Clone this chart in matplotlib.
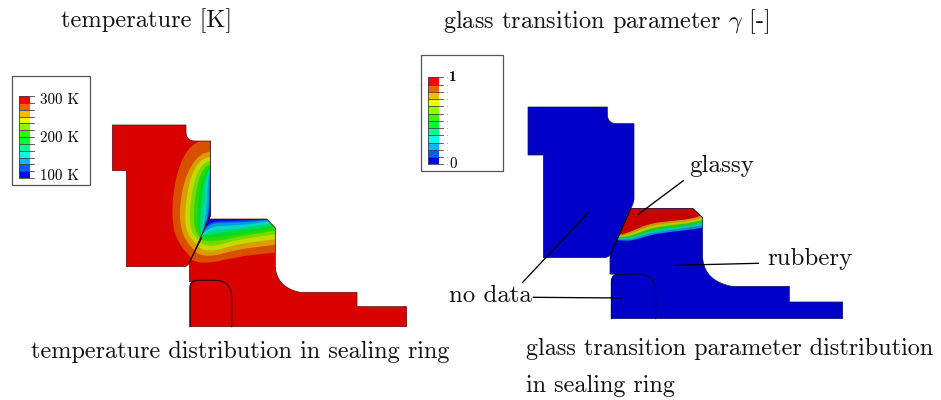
import numpy as np
import matplotlib
matplotlib.use("Agg")
import matplotlib.pyplot as plt
from matplotlib.patches import Polygon, Rectangle

plt.rcParams['font.family'] = ['cmr10', 'DejaVu Serif']
plt.rcParams['mathtext.fontset'] = 'cm'
plt.rcParams['axes.formatter.use_mathtext'] = True

# ---- colour scale (top to bottom) ----
legend_colors = ['#ff0000', '#ff5d00', '#ffb900', '#e8ff00', '#8bff00', '#2eff00',
                 '#00ff2e', '#00ff8b', '#00ffe8', '#00b9ff', '#005dff', '#0000ff']
shade_left = 0.85
shade_right = 0.79


def smooth(p, n=3):
    p = np.asarray(p, float)
    for _ in range(n):
        q = p[:-1]*0.75 + p[1:]*0.25
        r = p[:-1]*0.25 + p[1:]*0.75
        p = np.vstack([p[:1], np.column_stack([q, r]).reshape(-1, 2), p[-1:]])
    return p

def corner(a, c, b, n=24):
    """Rounded corner from a to b with control point c."""
    t = np.linspace(0, 1, n)[:, None]
    a, c, b = (np.asarray(v, float) for v in (a, c, b))
    return (1-t)**2*a + 2*t*(1-t)*c + t**2*b

def build(*parts):
    """Join straight point lists with rounded corners (given as 1-tuples)."""
    out = []
    for part in parts:
        out.append(corner(*part[0]) if isinstance(part, tuple) else np.asarray(part, float))
    return np.vstack(out)

# ---- left part: geometry, zoom frame 1 (origin 100,110; factor 3) ----
L_upper = build([(37,45),(258,45)], ([(258,66),(259,93),(285,93)],), [(332,93),(332,312)],
                ([(332,312),(330,324),(326,330)],), [(268,458)], ([(268,458),(262,470),(250,470)],),
                [(79,470),(79,182),(37,182)])
L_lower = build([(326,327),(500,327),(526,354)], ([(526,470),(530,532),(600,547)],),
                [(771,547),(771,590),(920,590),(920,650),(270,650),(270,532)],
                ([(270,532),(271,516),(286,513)],), [(268,515),(268,458)])
L_insert = build([(270,650)], ([(270,532),(271,512),(290,511)],), ([(345,511),(393,513),(395,560)],), [(395,650)])
L_contact = [(304,385),(268,458)]

U_curves = [
    [(298,93),(268,112),(243,155),(225,215),(216,290),(220,360),(240,405),(272,442)],
    [(332,124),(300,133),(268,175),(247,235),(238,310),(245,365),(262,398),(282,420)],
    [(332,140),(305,148),(278,185),(262,245),(254,320),(260,365),(275,388),(289,402)],
    [(332,152),(310,160),(288,195),(274,255),(268,325),(274,362),(285,380),(294,390)],
    [(332,162),(315,170),(296,205),(285,265),(281,330),(286,360),(298,382)],
    [(332,168),(320,178),(305,210),(295,270),(291,335),(295,360),(301,384)],
    [(332,176),(322,186),(310,225),(303,280),(299,340),(303,385)],
    [(332,176),(322,195),(316,250),(312,300),(305,378)],
    [(332,178),(326,195),(322,250),(320,300),(305,378)],
    [(332,190),(329,210),(327,310),(306,372)],
    [(332,215),(331,310),(315,345)],
]
D_curves = [
    [(270,447),(295,458),(335,458),(390,446),(450,435),(526,428)],
    [(282,423),(305,437),(345,437),(400,422),(460,412),(526,404)],
    [(289,408),(315,422),(350,421),(400,406),(460,396),(526,388)],
    [(294,396),(320,408),(355,406),(400,393),(460,382),(526,373)],
    [(297,388),(325,395),(360,392),(410,381),(470,371),(526,362)],
    [(299,385),(330,383),(370,379),(420,371),(480,362),(522,352)],
    [(302,381),(335,372),(380,367),(430,361),(480,354),(515,344)],
    [(304,378),(335,362),(380,357),(440,352),(510,340)],
    [(306,372),(335,350),(380,347),(440,344),(505,334)],
    [(310,362),(335,340),(380,338),(440,336),(500,330)],
    [(315,352),(335,334),(400,332),(500,328)],
]

# ---- right part: geometry, zoom frame 2 (origin 510,95; factor 3) ----
R_upper = build([(54,36),(292,36)], ([(292,58),(293,86),(320,86)],), [(372,86),(372,312)],
                ([(372,312),(370,325),(365,335)],), [(302,476)], ([(302,476),(295,488),(282,488)],),
                [(100,488),(100,180),(54,180)])
R_lower = build([(360,340),(548,340),(578,368)], ([(578,490),(584,558),(665,574)],),
                [(838,574),(838,621),(998,621),(998,671),(304,671),(304,560)],
                ([(304,560),(305,541),(323,538)],), [(300,537),(300,480)])
R_insert = build([(304,671)], ([(304,560),(305,539),(325,538)],), ([(390,538),(435,540),(437,590)],), [(437,671)])
R_contact = [(362,340),(302,478)]
R_curves = [
    [(338,418),(365,408),(420,385),(480,378),(540,372),(578,360)],
    [(335,422),(365,415),(420,392),(480,384),(540,378),(578,367)],
    [(333,426),(365,422),(420,400),(480,391),(540,384),(578,375)],
    [(331,430),(365,428),(420,407),(480,398),(540,391),(578,382)],
    [(329,433),(365,433),(420,414),(480,405),(540,397),(578,390)],
    [(328,436),(365,438),(420,420),(480,411),(540,404),(578,398)],
]
R_curve_colors = [1, 2, 3, 5, 8, 9]

# ---- annotation leaders (figure pixels) ----
leaders = [[(683.3,180.7),(638.3,214.3)], [(758.3,263.3),(675,265.3)],
           [(588.3,212.3),(522.7,282.3)], [(533.3,297.3),(621.7,298)]]

# ---- text ----
titles = [(61,27,'temperature [K]',17.6), (443.5,28,r'glass transition parameter $\gamma$ [-]',17.5),
          (31,358,'temperature distribution in sealing ring',17.47),
          (526,355,'glass transition parameter distribution',17.42),
          (526,392,'in sealing ring',17.42),
          (689,172,'glassy',18), (767,265,'rubbery',17.9), (449,302,'no data',17.9)]
left_ticks = ['300 K', '200 K', '100 K']
right_ticks = ['1', '0']


def shade(c, f):
    return tuple(f*v for v in matplotlib.colors.to_rgb(c))

def z1(p):
    return np.array(p, float)/3 + (100, 110)

def z2(p):
    return np.array(p, float)/3 + (510, 95)

fig = plt.figure(figsize=(9.41, 4.0), dpi=100)
ax = fig.add_axes([0, 0, 1, 1])
ax.set_xlim(0, 941); ax.set_ylim(400, 0); ax.axis('off')

def region(points, base):
    ax.add_patch(Polygon(points, closed=True, fc=base, ec='none', zorder=2))

def edge(points, col):
    ax.add_patch(Polygon(points, closed=True, fc='none', ec=col, lw=0.5, zorder=4))

# left part
pu = z1(L_upper); pl = z1(L_lower)
region(pu, shade('#ff0000', shade_left))
region(pl, shade('#ff0000', shade_left))
for i, cv in enumerate(U_curves):
    s = smooth(z1(cv))
    closing = [(300, s[-1, 1]), (300, 100), (s[0, 0], 100)]
    poly = Polygon(np.vstack([s, closing]), closed=True, fc=shade(legend_colors[i+1], shade_left), ec='none', zorder=3)
    ax.add_patch(poly); poly.set_clip_path(Polygon(pu, closed=True, transform=ax.transData))
for i, cv in enumerate(D_curves):
    s = smooth(z1(cv))
    closing = [(320, s[-1, 1]), (320, 200), (150, 200), (150, s[0, 1])]
    poly = Polygon(np.vstack([s, closing]), closed=True, fc=shade(legend_colors[i+1], shade_left), ec='none', zorder=3)
    ax.add_patch(poly); poly.set_clip_path(Polygon(pl, closed=True, transform=ax.transData))
edge(pu, '#5a1010'); edge(pl, '#5a1010')
ax.plot(*z1(L_insert).T, color='#200000', lw=0.8, zorder=5)
ax.plot(*z1(L_contact).T, color='#200000', lw=0.8, zorder=5)

# right part
ru = z2(R_upper); rl = z2(R_lower)
region(ru, shade('#0000ff', shade_right))
region(rl, shade('#0000ff', shade_right))
for cv, ci in reversed(list(zip(R_curves, R_curve_colors))):
    s = smooth(z2(cv))
    closing = [(760, s[-1, 1]), (760, 190), (590, 190), (590, s[0, 1])]
    col = shade(legend_colors[ci], shade_right)
    poly = Polygon(np.vstack([s, closing]), closed=True, fc=col, ec='none', zorder=3)
    ax.add_patch(poly); poly.set_clip_path(Polygon(rl, closed=True, transform=ax.transData))
s = smooth(z2(R_curves[0]))
poly = Polygon(np.vstack([s, [(760, s[-1, 1]), (760, 190), (590, 190), (590, s[0, 1])]]), closed=True,
               fc=shade('#ff0000', shade_right), ec='none', zorder=3)
ax.add_patch(poly); poly.set_clip_path(Polygon(rl, closed=True, transform=ax.transData))
edge(ru, '#10105a'); edge(rl, '#10105a')
ax.plot(*z2(R_insert).T, color='#000040', lw=0.7, zorder=5)
ax.plot(*z2(R_contact).T, color='black', lw=0.8, zorder=5)

# legends
def legend(box, x0, x1, y0, y1, tick_x):
    ax.add_patch(Rectangle((box[0], box[1]), box[2]-box[0], box[3]-box[1], fc='white', ec='#555555', lw=0.9, zorder=1))
    ys = np.linspace(y0, y1, len(legend_colors)+1)
    for c, a, b in zip(legend_colors, ys[:-1], ys[1:]):
        ax.add_patch(Rectangle((x0, a), x1-x0, b-a, fc=c, ec='none', zorder=2))
    for y in ys:
        ax.plot([x0, tick_x], [y, y], color='#444444', lw=0.6, zorder=3)
    ax.plot([x0, x0], [y0, y1], color='#444444', lw=0.6, zorder=3)
    return ys

ys = legend((12, 76, 90, 185), 19.3, 30, 96, 178, 34)
for lab, y in zip(left_ticks, (100, 138, 176)):
    ax.text(40, y, lab, fontsize=10.8, ha='left', va='center', zorder=6)
ys = legend((421, 55, 503, 171), 428, 439, 77.3, 164.3, 443)
for lab, y in zip(right_ticks, (77, 164)):
    ax.text(449, y, lab, fontsize=10.8, ha='left', va='center', zorder=6,
            family='cmb10' if lab == '1' else 'cmr10')
ax.scatter([447.5]*len(ys), ys, s=0.6, color='#aaaaaa', zorder=3, linewidths=0)

for seg in leaders:
    ax.plot(*np.array(seg).T, color='black', lw=0.95, zorder=7)
for x, y, t, fs in titles:
    ax.text(x, y, t, fontsize=fs, ha='left', va='baseline', color='#111111', zorder=8)

fig.savefig('out.png', dpi=100)
